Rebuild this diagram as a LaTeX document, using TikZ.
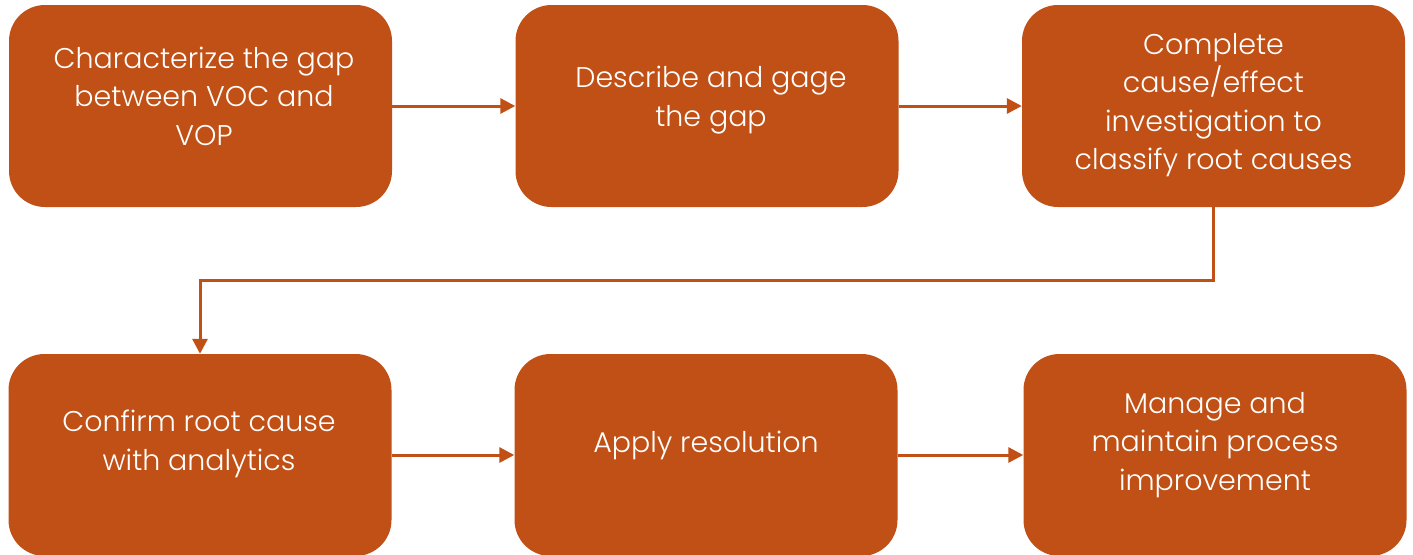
\documentclass[tikz,border=0pt]{standalone}
\usepackage{fontspec}
\setmainfont{Poppins Light}
\usetikzlibrary{arrows.meta}
\definecolor{rust}{RGB}{192,80,21}
\tikzset{
  box/.style={fill=rust, draw=none, rounded corners=36pt, minimum width=383pt, minimum height=202pt, inner sep=0pt},
  lbl/.style={text=white, align=center, font=\fontsize{28.5}{38.5}\selectfont, inner sep=0pt},
  arr/.style={draw=rust, line width=3pt, -{Triangle[length=15pt,width=15pt]}}
}
\begin{document}
\begin{tikzpicture}[x=1pt,y=-1pt]
\useasboundingbox (0,0) rectangle (1413,554);
\node[box] (a) at (200.5,106) {};
\node[box] (b) at (707,106) {};
\node[box] (c) at (1213.5,106) {};
\node[box] (d) at (200,455) {};
\node[box] (e) at (706,455) {};
\node[box] (f) at (1215,455) {};
\node[lbl] (at) at (204,96) {Characterize the gap\\between VOC and\\VOP};
\node[lbl] (bt) at (711,100) {Describe and gage\\the gap};
\node[lbl] (ct) at (1213.5,105) {Complete\\cause/effect\\investigation to\\classify root causes};
\node[lbl] (dt) at (199,444) {Confirm root cause\\with analytics};
\node[lbl] (et) at (706,445) {Apply resolution};
\node[lbl] (ft) at (1215,445) {Manage and\\maintain process\\improvement};
\draw[arr] (a.east) -- (b.west);
\draw[arr] (b.east) -- (c.west);
\draw[arr] (c.south) -- ++(0,73) -| (d.north);
\draw[arr] (d.east) -- (e.west);
\draw[arr] (e.east) -- (f.west);
\end{tikzpicture}
\end{document}
